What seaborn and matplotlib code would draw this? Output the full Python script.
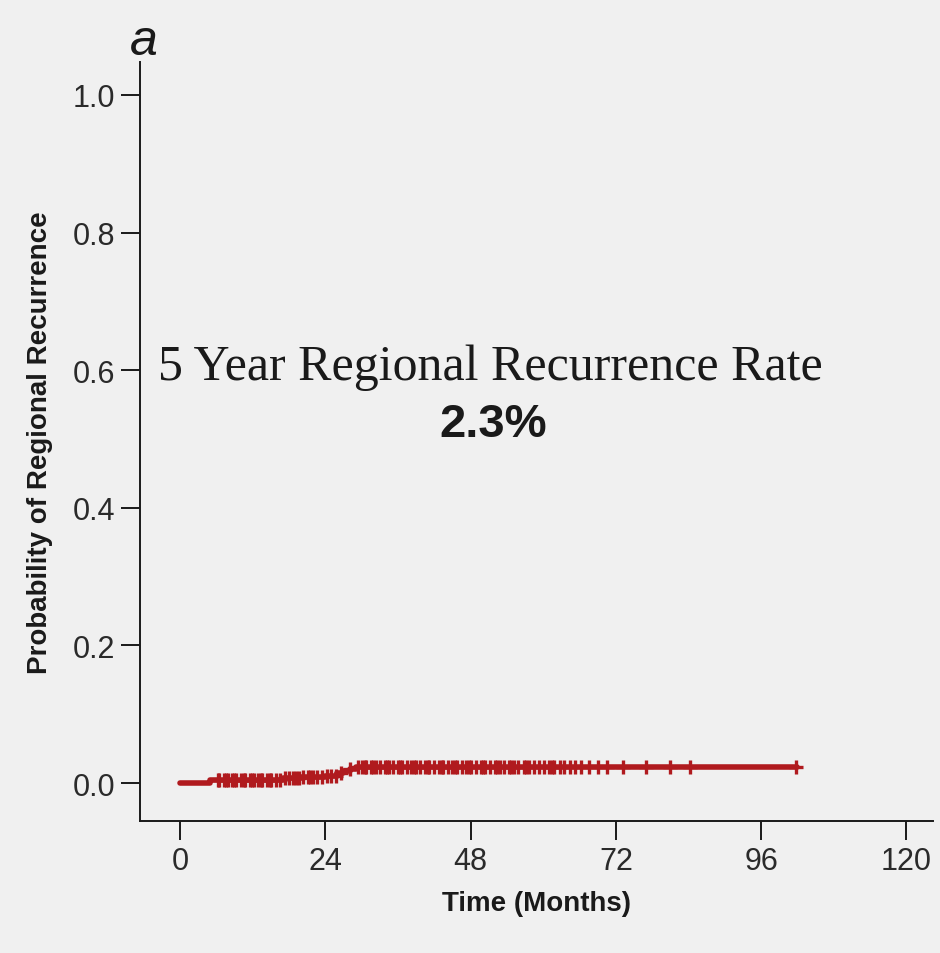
import numpy as np
import pandas as pd
import matplotlib
matplotlib.use("Agg")
import matplotlib.pyplot as plt
import seaborn as sns

# ---- data ----
step_times = [0, 5, 17, 20, 24, 26, 27, 28, 29, 102]
step_probs = [0.0, 0.005, 0.007, 0.009, 0.011, 0.014, 0.018, 0.021, 0.023, 0.023]
censor_times = [6.2, 6.5, 7.2, 7.6, 8.0, 8.6, 9.0, 9.3, 10.1, 10.5, 10.8, 11.5,
                11.9, 12.2, 12.9, 13.3, 13.6, 14.4, 14.8, 15.1, 15.8, 16.5, 17.3,
                18.0, 18.7, 19.1, 19.6, 20.4, 21.1, 21.5, 21.9, 22.6, 23.4, 24.3,
                25.0, 25.8, 26.6, 28.0, 29.4, 30.1, 30.5, 30.8, 31.5, 31.9, 32.3,
                33.0, 33.8, 34.2, 34.5, 35.2, 36.0, 36.4, 36.7, 37.5, 38.2, 38.6,
                39.0, 39.7, 40.5, 40.9, 41.2, 42.0, 42.8, 43.2, 43.5, 44.3, 45.0,
                45.4, 45.8, 46.6, 47.3, 47.7, 48.1, 48.9, 49.7, 50.0, 50.4, 51.2,
                52.0, 52.4, 52.8, 53.5, 54.3, 54.7, 55.1, 55.9, 56.8, 57.2, 57.6,
                58.4, 59.3, 60.1, 61.0, 61.4, 61.8, 62.7, 63.5, 64.4, 65.3, 66.2,
                67.6, 69.0, 70.5, 73.1, 77.0, 80.9, 84.2, 101.8]
x_ticks = [0, 24, 48, 72, 96, 120]
y_ticks = [0.0, 0.2, 0.4, 0.6, 0.8, 1.0]
x_label = "Time (Months)"
y_label = "Probability of Regional Recurrence"
annot_title = "5 Year Regional Recurrence Rate"
annot_value = "2.3%"
panel_label = "a"

BG = "#f0f0f0"
RED = "#b01a1e"
INK = "#1a1a1a"

sns.set_style("ticks", rc={"axes.facecolor": BG, "figure.facecolor": BG})
plt.rcParams["font.family"] = ["Liberation Sans", "DejaVu Sans"]

km = pd.DataFrame({"time": step_times, "prob": step_probs})
idx = np.searchsorted(step_times, censor_times, side="right") - 1
cens = pd.DataFrame({"time": censor_times,
                     "prob": [step_probs[i] for i in idx]})

fig = plt.figure(figsize=(9.4, 9.54), dpi=100)
ax = fig.add_axes([0.149, 0.1384, 0.8436, 0.7956])

sns.lineplot(data=km, x="time", y="prob", ax=ax, color=RED, linewidth=4,
             drawstyle="steps-post", estimator=None, sort=True)
sns.scatterplot(data=cens, x="time", y="prob", ax=ax, color=RED, marker="+",
                s=110, linewidth=2.4, zorder=3)

ax.set_xlim(-6.6, 124.4)
ax.set_ylim(-0.055, 1.048)
ax.set_xticks(x_ticks)
ax.set_yticks(y_ticks)
ax.set_xticklabels([str(t) for t in x_ticks])
ax.set_yticklabels([f"{t:.1f}" for t in y_ticks])
ax.tick_params(axis="both", length=14, width=1.4, color=INK, labelsize=22,
               labelcolor="#2a2a2a", pad=4)
for s in ["top", "right"]:
    ax.spines[s].set_visible(False)
for s in ["left", "bottom"]:
    ax.spines[s].set_linewidth(1.4)
    ax.spines[s].set_color(INK)

ax.set_xlabel(x_label, fontsize=20, fontweight="bold", color=INK, labelpad=10)
ax.set_ylabel(y_label, fontsize=20, fontweight="bold", color=INK, labelpad=14)

ax.text(51.2, 0.605, annot_title, family=["Liberation Serif", "DejaVu Serif"],
        fontsize=36, ha="center", va="center", color=INK)
ax.text(51.8, 0.522, annot_value, fontsize=34, fontweight="bold",
        ha="center", va="center", color=INK)

fig.text(130 / 940, 1 - 42 / 954, panel_label, fontsize=36, style="italic",
         ha="left", va="center", color=INK)

fig.savefig("out.png", dpi=100, facecolor=BG)
